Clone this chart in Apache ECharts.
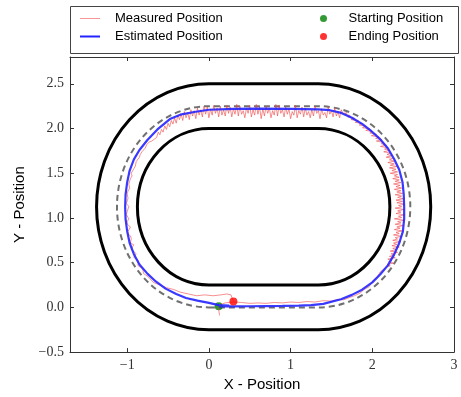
<!DOCTYPE html>
<html><head><meta charset="utf-8">
<script src="https://cdn.jsdelivr.net/npm/echarts@6/dist/echarts.min.js"></script>
<style>html,body{margin:0;padding:0;background:#fff}#c{width:461px;height:397px}</style>
</head><body><div id="c"></div>
<script>
// ---- data ----
const xTicks = [-1, 0, 1, 2, 3];
const yTicks = [-0.5, 0, 0.5, 1, 1.5, 2, 2.5];
const trackArcCentersX = [0, 1.34];
const trackCenterY = 1.125;
const boundaryRadii = [1.375, 0.875];
const centerlineRadii = [1.125];
const startPos = [[0.12, 0.012]];
const endPos = [[0.30, 0.067]];
const measuredBottom = [
[0.13,-0.09],[0.12,-0.02],[0.14,0.03],[0.2,0.05],[0.3,0.06],[0.4,0.055],[0.5,0.045],[0.6,0.05],[0.7,0.045],[0.8,0.055],[0.9,0.05],[1.0,0.06],[1.1,0.055],[1.2,0.065],[1.3,0.06],[1.4,0.075],[1.5,0.07],[1.58,0.09],[1.65,0.085],[1.72,0.11],[1.78,0.13],[1.85,0.16],[1.9,0.2],[1.96,0.23],[2.01,0.3],[2.06,0.34],[2.1,0.4]
];
const measuredRight = [
[2.17,0.45],[2.22,0.465],[2.18,0.48],[2.26,0.495],[2.20,0.51],[2.24,0.525],[2.19,0.54],[2.28,0.555],[2.21,0.57],[2.26,0.585],[2.23,0.60],[2.31,0.615],[2.22,0.63],[2.29,0.645],[2.25,0.66],[2.33,0.675],[2.24,0.69],[2.30,0.705],[2.26,0.72],[2.35,0.735],[2.25,0.75],[2.31,0.765],[2.28,0.78],[2.36,0.795],[2.26,0.81],[2.33,0.825],[2.29,0.84],[2.37,0.855],[2.27,0.87],[2.34,0.885],[2.30,0.90],[2.38,0.915],[2.28,0.93],[2.35,0.945],[2.31,0.96],[2.39,0.975],[2.27,0.99],[2.36,1.005],[2.32,1.02],[2.40,1.035],[2.29,1.05],[2.35,1.065],[2.31,1.08],[2.39,1.095],[2.28,1.11],[2.36,1.125],[2.32,1.14],[2.40,1.155],[2.30,1.17],[2.37,1.185],[2.29,1.20],[2.38,1.215],[2.31,1.23],[2.36,1.245],[2.28,1.26],[2.37,1.275],[2.30,1.29],[2.35,1.305],[2.27,1.32],[2.36,1.335],[2.29,1.35],[2.34,1.365],[2.26,1.38],[2.35,1.395],[2.28,1.41],[2.33,1.425],[2.25,1.44],[2.33,1.455],[2.27,1.47],[2.31,1.485],[2.22,1.50],[2.31,1.515],[2.24,1.53],[2.29,1.545],[2.21,1.56],[2.30,1.575],[2.22,1.59],[2.27,1.605],[2.19,1.62],[2.27,1.635],[2.21,1.65],[2.25,1.665],[2.17,1.68],[2.24,1.695],[2.18,1.71],[2.22,1.725],[2.14,1.74],[2.21,1.755],[2.15,1.77],[2.19,1.785],[2.10,1.80],[2.17,1.815],[2.11,1.83],[2.14,1.845],[2.05,1.86],[2.12,1.875],[2.04,1.89],[2.08,1.905],[1.99,1.92],[2.05,1.935],[1.97,1.95],[2.00,1.965],[1.92,1.98],[1.97,1.995],[1.88,2.01],[1.92,2.025],[1.84,2.04],[1.87,2.055],[1.79,2.07],[1.83,2.085],[1.74,2.10],[1.78,2.115],[1.70,2.13],[1.73,2.145],[1.66,2.16],[1.69,2.175]
];
const measuredTop = [
[1.64,2.17],[1.62,2.21],[1.60,2.12],[1.58,2.19],[1.56,2.14],[1.54,2.23],[1.52,2.13],[1.50,2.20],[1.48,2.16],[1.46,2.24],[1.44,2.12],[1.42,2.18],[1.40,2.15],[1.38,2.22],[1.36,2.11],[1.34,2.20],[1.32,2.17],[1.30,2.25],[1.28,2.14],[1.26,2.21],[1.24,2.12],[1.22,2.19],[1.20,2.15],[1.18,2.23],[1.16,2.13],[1.14,2.24],[1.12,2.16],[1.10,2.20],[1.08,2.12],[1.06,2.26],[1.04,2.15],[1.02,2.19],[1.00,2.11],[0.98,2.22],[0.96,2.16],[0.94,2.24],[0.92,2.13],[0.90,2.21],[0.88,2.17],[0.86,2.26],[0.84,2.14],[0.82,2.27],[0.80,2.15],[0.78,2.20],[0.76,2.12],[0.74,2.23],[0.72,2.17],[0.70,2.25],[0.68,2.14],[0.66,2.22],[0.64,2.11],[0.62,2.24],[0.60,2.16],[0.58,2.27],[0.56,2.15],[0.54,2.21],[0.52,2.13],[0.50,2.26],[0.48,2.17],[0.46,2.23],[0.44,2.12],[0.42,2.20],[0.40,2.16],[0.38,2.25],[0.36,2.14],[0.34,2.27],[0.32,2.16],[0.30,2.22],[0.28,2.13],[0.26,2.24],[0.24,2.17],[0.22,2.26],[0.20,2.14],[0.18,2.21],[0.16,2.15],[0.14,2.25],[0.12,2.13],[0.10,2.23],[0.08,2.17],[0.06,2.26],[0.04,2.15],[0.02,2.22],[0.00,2.12],[-0.02,2.24],[-0.04,2.16],[-0.06,2.25],[-0.08,2.13],[-0.10,2.21],[-0.12,2.15],[-0.14,2.23],[-0.16,2.11],[-0.18,2.20],[-0.20,2.14],[-0.22,2.21],[-0.24,2.10],[-0.26,2.18],[-0.28,2.12],[-0.30,2.19],[-0.32,2.09],[-0.34,2.16],[-0.36,2.10],[-0.38,2.15],[-0.40,2.06],[-0.42,2.12],[-0.44,2.05],[-0.46,2.09],[-0.48,2.02],[-0.50,2.06],[-0.52,1.99],[-0.54,2.03],[-0.56,1.96],[-0.58,1.99],[-0.60,1.93],[-0.62,1.96],[-0.64,1.90],[-0.66,1.92]
];
const measuredLeft = [
[-0.70,1.86],[-0.73,1.85],[-0.76,1.82],[-0.78,1.78],[-0.79,1.76],[-0.82,1.74],[-0.84,1.71],[-0.85,1.68],[-0.86,1.66],[-0.89,1.63],[-0.90,1.61],[-0.90,1.58],[-0.92,1.55],[-0.94,1.53],[-0.95,1.50],[-0.94,1.47],[-0.96,1.44],[-0.97,1.41],[-0.98,1.38],[-0.96,1.36],[-0.97,1.33],[-0.99,1.30],[-1.0,1.27],[-0.98,1.25],[-0.99,1.22],[-1.0,1.19],[-1.01,1.16],[-0.98,1.13],[-0.99,1.10],[-1.0,1.07],[-1.01,1.04],[-0.99,1.02],[-0.98,0.99],[-1.0,0.96],[-1.0,0.93],[-0.96,0.90],[-0.97,0.88],[-0.99,0.85],[-0.99,0.82],[-0.96,0.80],[-0.95,0.77],[-0.97,0.75],[-0.96,0.72],[-0.92,0.70],[-0.91,0.68],[-0.95,0.65],[-0.94,0.63],[-0.89,0.60],[-0.88,0.58],[-0.92,0.56],[-0.91,0.54],[-0.86,0.52],[-0.85,0.50],[-0.87,0.47],[-0.86,0.45],[-0.81,0.43],[-0.79,0.41],[-0.80,0.38],[-0.78,0.36],[-0.74,0.34],[-0.72,0.32],[-0.68,0.28],[-0.6,0.25],[-0.52,0.22],[-0.43,0.2],[-0.35,0.17],[-0.25,0.15],[-0.15,0.13],[-0.05,0.14],[0.05,0.13],[0.15,0.14],[0.22,0.15],[0.27,0.14],[0.30,0.067]
];
const estimated = [
[0.12,0.012],[0.3,0.012],[0.5,0.013],[0.7,0.015],[0.9,0.017],[1.1,0.02],[1.25,0.025],[1.4,0.04],[1.617,0.091],[1.75,0.14],[1.875,0.198],[2.0,0.28],[2.096,0.368],[2.19,0.47],[2.267,0.59],[2.33,0.72],[2.374,0.848],[2.39,0.99],[2.39,1.125],[2.385,1.26],[2.37,1.4],[2.33,1.54],[2.267,1.66],[2.19,1.78],[2.096,1.882],[1.99,1.97],[1.875,2.052],[1.75,2.12],[1.62,2.175],[1.48,2.205],[1.34,2.215],[1.0,2.22],[0.6,2.222],[0.3,2.22],[0.0,2.21],[-0.18,2.185],[-0.35,2.155],[-0.47,2.11],[-0.63,1.99],[-0.75,1.875],[-0.85,1.76],[-0.918,1.655],[-0.97,1.53],[-1.0,1.4],[-1.02,1.26],[-1.025,1.125],[-1.02,0.99],[-1.0,0.85],[-0.97,0.72],[-0.918,0.595],[-0.85,0.48],[-0.75,0.375],[-0.65,0.29],[-0.53,0.21],[-0.4,0.15],[-0.28,0.105],[-0.14,0.075],[0.0,0.05],[0.12,0.025],[0.25,0.02]
];
const measured = measuredBottom.concat(measuredRight, measuredTop, measuredLeft);

// ---- chart ----
const chart = echarts.init(document.getElementById('c'), null, {renderer: 'canvas'});
const minus = s => String(s).replace('-', '\u2212');
function trackPath(api, r) {
  const cx0 = trackArcCentersX[0], cx1 = trackArcCentersX[1], cy = trackCenterY;
  const lb = api.coord([cx0, cy - r]), rb = api.coord([cx1, cy - r]);
  const rt = api.coord([cx1, cy + r]), lt = api.coord([cx0, cy + r]);
  const s = api.size([r, r]);
  const rx = Math.abs(s[0]), ry = Math.abs(s[1]);
  return `M${lb[0]} ${lb[1]} L${rb[0]} ${rb[1]} A${rx} ${ry} 0 0 0 ${rt[0]} ${rt[1]} L${lt[0]} ${lt[1]} A${rx} ${ry} 0 0 0 ${lb[0]} ${lb[1]} Z`;
}
const axisCol = '#333';
const labelFont = {fontFamily: 'Liberation Serif', fontSize: 14, color: '#333'};
const nameFont = {fontFamily: 'Liberation Sans', fontSize: 15, color: '#000'};
const legendText = {fontFamily: 'Liberation Sans', fontSize: 13, color: '#000', padding: [0, 0, 0, 10]};
const thinIcon = 'path://M0,0H0.01V0.01H0Z M0,5.5H20V6.5H0Z M0,11.99H0.01V12H0Z';
const thickIcon = 'path://M0,0H0.01V0.01H0Z M0,5H20V7H0Z M0,11.99H0.01V12H0Z';
const xBase = {type: 'value', min: -1.7, max: 3, splitLine: {show: false},
  axisLine: {show: true, onZero: false, lineStyle: {color: axisCol, width: 1}},
  axisTick: {show: true, inside: true, length: 4, customValues: xTicks, lineStyle: {color: axisCol}}};
const yBase = {type: 'value', min: -0.5, max: 2.8, splitLine: {show: false},
  axisLine: {show: true, onZero: false, lineStyle: {color: axisCol, width: 1}},
  axisTick: {show: true, inside: true, length: 4, customValues: yTicks, lineStyle: {color: axisCol}}};

chart.setOption({
  animation: false,
  backgroundColor: '#fff',
  grid: {left: 70, right: 7, top: 57, bottom: 43, containLabel: false},
  graphic: [{type: 'rect', left: 68, top: 4, shape: {width: 388, height: 47},
    style: {fill: 'none', stroke: '#444', lineWidth: 1}, z: 100}],
  legend: [
    {left: 75, top: 7, orient: 'vertical', itemWidth: 20, itemHeight: 12, itemGap: 5,
     data: [{name: 'Measured Position', icon: thinIcon}, {name: 'Estimated Position', icon: thickIcon}],
     textStyle: legendText},
    {left: 315, top: 7, orient: 'vertical', itemWidth: 20, itemHeight: 7, itemGap: 5,
     data: ['Starting Position', 'Ending Position'], textStyle: legendText}
  ],
  xAxis: [
    Object.assign({}, xBase, {position: 'bottom',
      axisLabel: {customValues: xTicks, formatter: v => minus(v), margin: 6, ...labelFont},
      name: 'X - Position', nameLocation: 'middle', nameGap: 18, nameTextStyle: nameFont}),
    Object.assign({}, xBase, {position: 'top', axisLabel: {show: false}})
  ],
  yAxis: [
    Object.assign({}, yBase, {position: 'left',
      axisLabel: {customValues: yTicks, formatter: v => minus(Number(v).toFixed(1)), margin: 6, ...labelFont},
      name: 'Y - Position', nameLocation: 'middle', nameGap: 32, nameTextStyle: nameFont}),
    Object.assign({}, yBase, {position: 'right', axisLabel: {show: false}})
  ],
  series: [
    {type: 'custom', name: 'track', data: boundaryRadii.map(r => [r]), z: 1, silent: true,
     renderItem: (params, api) => ({type: 'path', shape: {pathData: trackPath(api, api.value(0))},
       style: {fill: 'none', stroke: '#000', lineWidth: 3}})},
    {type: 'custom', name: 'centerline', data: centerlineRadii.map(r => [r]), z: 2, silent: true,
     renderItem: (params, api) => ({type: 'path', shape: {pathData: trackPath(api, api.value(0))},
       style: {fill: 'none', stroke: '#707070', lineWidth: 2, lineDash: [6, 4]}})},
    {type: 'scatter', name: 'Starting Position', data: startPos, symbolSize: 8, z: 3,
     itemStyle: {color: '#008000'}},
    {type: 'line', name: 'Measured Position', data: measured, symbol: 'none', z: 4,
     lineStyle: {color: 'rgba(240,70,70,0.6)', width: 1}, itemStyle: {color: 'rgba(240,80,80,0.6)'}},
    {type: 'line', name: 'Estimated Position', data: estimated, symbol: 'none', z: 5,
     lineStyle: {color: '#2424ff', width: 2.2, opacity: 0.9}, itemStyle: {color: '#2424ff'}},
    {type: 'scatter', name: 'Ending Position', data: endPos, symbolSize: 8, z: 6,
     itemStyle: {color: '#ff0000'}}
  ]
});
</script></body></html>
